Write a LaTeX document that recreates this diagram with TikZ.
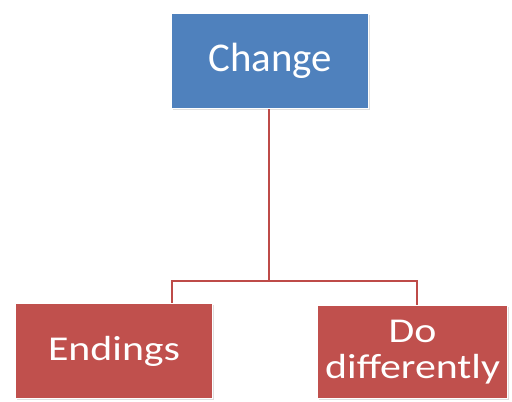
\documentclass[tikz,border=0pt]{standalone}
\usepackage{fontspec}
\usepackage{graphicx}
\setmainfont{Carlito}
\usetikzlibrary{shadows}
\definecolor{boxblue}{HTML}{4F81BD}
\definecolor{boxred}{HTML}{C0504D}
\definecolor{linkred}{HTML}{BE4B48}
\newcommand{\widetext}[1]{\scalebox{1.2}[1]{#1}}
\tikzset{
  box/.style={draw=white, line width=1.2pt, text=white, align=center,
    inner sep=0pt, anchor=north west,
    drop shadow={opacity=0.25, shadow xshift=1.2pt, shadow yshift=-1.5pt}},
  link/.style={draw=linkred, line width=2.2pt}
}
\begin{document}
\begin{tikzpicture}[x=1bp, y=-1bp]
  \useasboundingbox (0,0) rectangle (512,401);
  % root
  \node[box, fill=boxblue, minimum width=197bp, minimum height=95bp,
        font=\fontsize{41}{44}\selectfont] (change) at (171,13) {Change};
  % children
  \node[box, fill=boxred, minimum width=197bp, minimum height=95bp,
        font=\fontsize{35}{38}\selectfont] (endings) at (15,303) {\widetext{Endings}};
  \node[box, fill=boxred, minimum width=190bp, minimum height=93bp,
        font=\fontsize{35}{37}\selectfont] (differ) at (317,305)
        {\widetext{Do}\\\widetext{differently}};
  % elbow connectors
  \coordinate (bus) at (269,281);
  \draw[link] (change.south -| bus) -- (bus);
  \draw[link] (bus) -- (172,281) -- (endings.north -| 172,0);
  \draw[link] (bus) -- (417,281) -- (differ.north -| 417,0);
\end{tikzpicture}
\end{document}
